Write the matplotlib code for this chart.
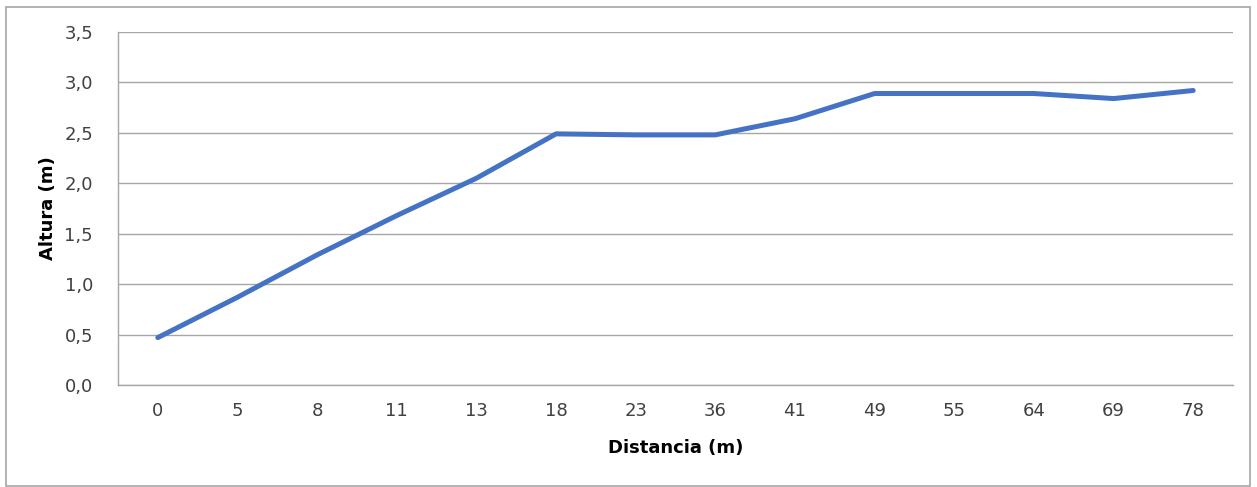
import matplotlib.pyplot as plt
from matplotlib.patches import Rectangle
from matplotlib.ticker import FuncFormatter

# Datos
distancias = ['0', '5', '8', '11', '13', '18', '23', '36', '41', '49', '55', '64', '69', '78']
alturas = [0.47, 0.87, 1.29, 1.68, 2.05, 2.49, 2.48, 2.48, 2.64, 2.89, 2.89, 2.89, 2.84, 2.92]

plt.rcParams['font.family'] = ['DejaVu Sans']

fig = plt.figure(figsize=(12.57, 4.87), dpi=100)
ax = fig.add_axes([118 / 1257, 1 - 385 / 487, (1233 - 118) / 1257, (385 - 32) / 487])

x = list(range(len(distancias)))
ax.plot(x, alturas, color='#4472C4', linewidth=3.6, solid_capstyle='round', solid_joinstyle='round')

ax.set_xlim(-0.5, len(distancias) - 0.5)
ax.set_ylim(0, 3.5)
ax.set_yticks([i * 0.5 for i in range(8)])
ax.yaxis.set_major_formatter(FuncFormatter(lambda v, p: f'{v:.1f}'.replace('.', ',')))
ax.set_xticks(x)
ax.set_xticklabels(distancias)

ax.grid(axis='y', color='#A6A6A6', linewidth=1)
ax.set_axisbelow(True)
for s in ['top', 'right']:
    ax.spines[s].set_visible(False)
for s in ['left', 'bottom']:
    ax.spines[s].set_color('#A6A6A6')
    ax.spines[s].set_linewidth(1)

ax.tick_params(axis='both', length=0, labelsize=13, colors='#404040', labelcolor='#404040')
ax.tick_params(axis='x', pad=12)
ax.tick_params(axis='y', pad=18)

ax.set_xlabel('Distancia (m)', fontsize=13, fontweight='bold', labelpad=14)
ax.set_ylabel('Altura (m)', fontsize=13, fontweight='bold', labelpad=5)

# marco exterior del grafico
fig.patches.append(Rectangle((6 / 1257, 1 / 487), 1244 / 1257, 479 / 487, transform=fig.transFigure,
                             fill=False, edgecolor='#A6A6A6', linewidth=1.2))

fig.savefig('out.png', dpi=100)
